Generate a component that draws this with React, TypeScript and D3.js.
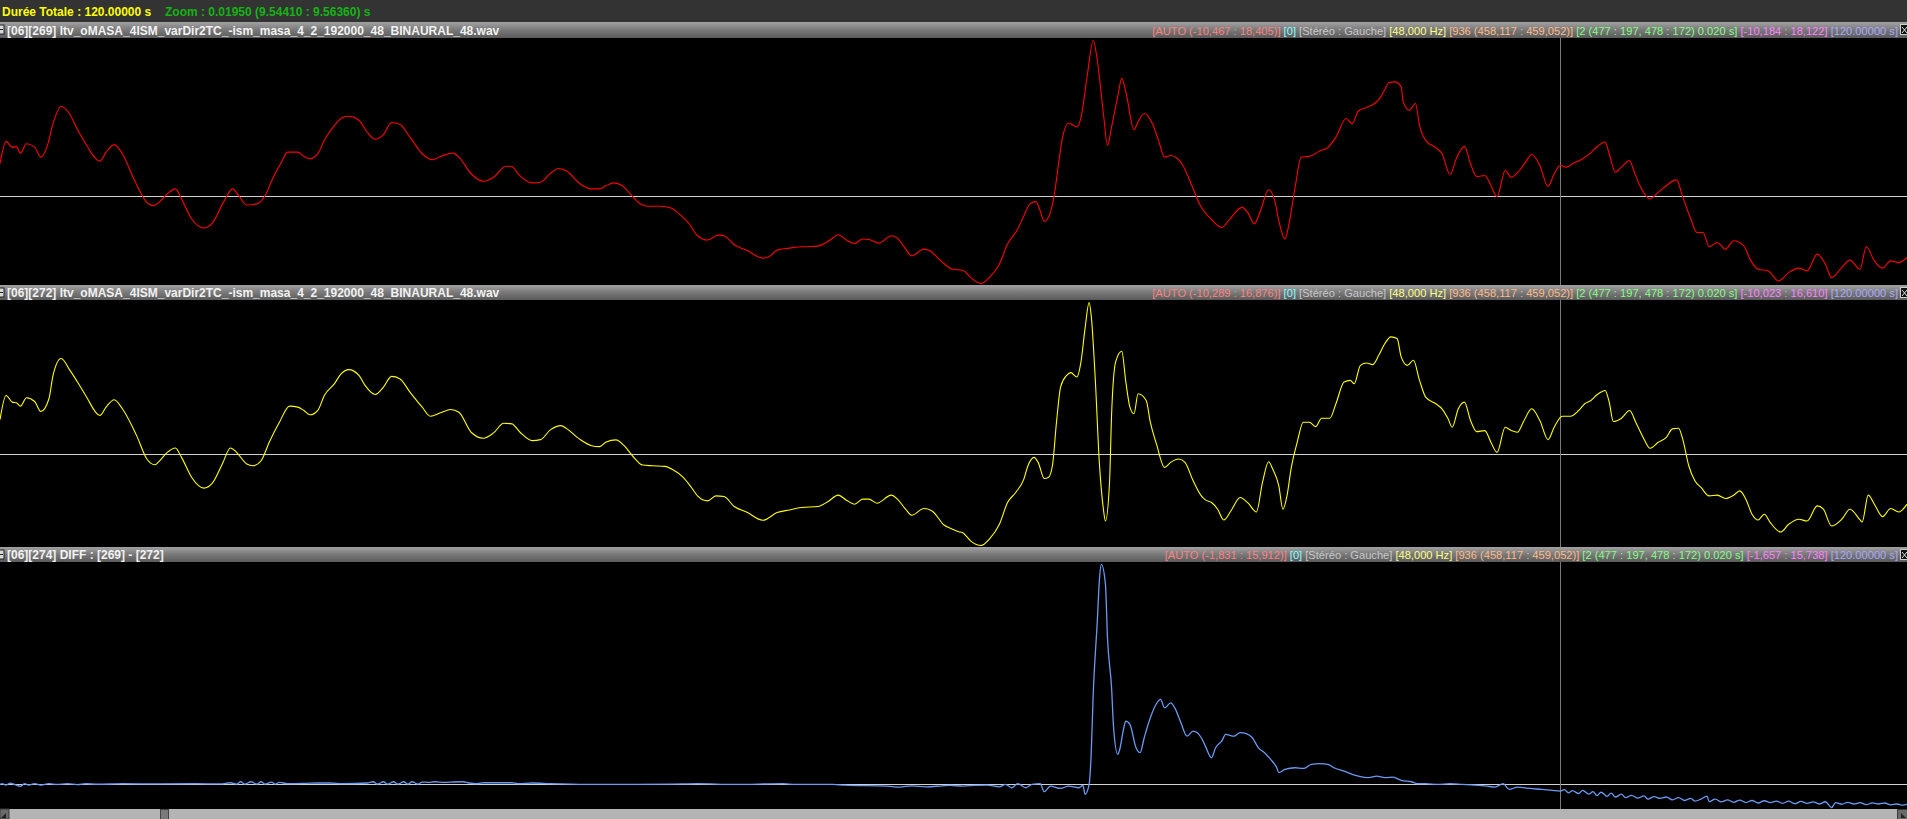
import React, { useEffect } from 'react';
import * as d3 from 'd3';

type Pt = [number, number];

// [sample offset inside the zoom window (0..935), amplitude]
const track269: Pt[] = [
  [0, 3760], [3, 6370], [6, 5670], [8, 5790], [10, 5000], [13, 6100], [17, 5700], [20, 4540], [23, 5700],
  [26, 8440], [30, 10460], [34, 9610], [38, 7740], [42, 6100], [49, 4070], [52, 5120], [56, 5990], [60, 4930],
  [66, 1810], [72, -730], [75, -1110], [78, -730], [82, 260], [86, 840], [89, -330], [94, -2670], [100, -3720],
  [104, -3180], [110, -530], [114, 840], [117, 60], [121, -1030], [126, -910], [130, 60], [134, 2200], [138, 3950],
  [141, 5120], [146, 5120], [149, 4620], [152, 4350], [156, 5000], [159, 6490], [164, 8240], [168, 9140],
  [171, 9290], [176, 8830], [180, 7460], [184, 6610], [188, 7150], [192, 8560], [196, 8360], [201, 6870],
  [207, 4930], [212, 4230], [216, 4620], [222, 5000], [225, 4540], [231, 2600], [237, 1730], [242, 2200],
  [248, 3480], [251, 3450], [254, 2600], [261, 1540], [265, 1610], [270, 2670], [274, 3220], [278, 2900],
  [284, 1500], [290, 840], [294, 840], [297, 1190], [301, 1540], [305, 1230], [309, 260], [314, -910],
  [318, -1190], [324, -1190], [329, -1380], [334, -2280], [338, -3250], [342, -4620], [347, -5120], [352, -4540],
  [355, -4620], [360, -5670], [366, -6290], [374, -7220], [377, -7070], [381, -6290], [387, -6060], [393, -5900],
  [401, -5820], [407, -5120], [411, -4500], [415, -5120], [419, -5520], [423, -5000], [426, -5050], [431, -5470],
  [437, -4620], [440, -4890], [443, -5790], [447, -6960], [453, -6170], [456, -6370], [461, -7460], [467, -8510],
  [472, -8630], [476, -9490], [481, -10184], [485, -9490], [490, -7930], [494, -5590], [499, -3830], [502, -2280],
  [505, -910], [508, -640], [510, -1700], [512, -2950], [515, -1890], [517, 260], [519, 3760], [521, 6870],
  [524, 8510], [528, 8040], [530, 9140], [533, 13890], [536, 18122], [538, 15840], [541, 9610], [543, 5900],
  [545, 8040], [548, 11550], [550, 13700], [552, 12130], [556, 7740], [558, 8630], [561, 9610], [565, 8440],
  [568, 6490], [571, 4540], [574, 4730], [580, 3570], [584, 1430], [589, -1310], [593, -2480], [599, -3650],
  [603, -2670], [609, -1310], [612, -2010], [615, -3250], [618, -1700], [622, 730], [625, -530], [627, -2860],
  [630, -5000], [632, -3250], [635, 1030], [638, 4540], [642, 4620], [647, 5240], [651, 5640], [655, 6870],
  [660, 9030], [663, 8440], [666, 9910], [670, 10310], [674, 10780], [677, 11550], [679, 12420], [681, 13190],
  [684, 13300], [687, 12720], [688, 10970], [691, 10000], [694, 10780], [696, 8240], [699, 6490], [704, 5640],
  [707, 4930], [711, 2510], [714, 4350], [718, 5790], [721, 3760], [724, 2280], [728, 2400], [731, 1230],
  [734, -60], [738, 2980], [741, 2200], [745, 2980], [748, 3950], [751, 4850], [755, 3570], [759, 1110],
  [762, 2600], [765, 3570], [768, 3370], [771, 3760], [776, 4350], [779, 4850], [782, 5520], [785, 6100],
  [787, 6290], [789, 4930], [792, 2780], [795, 3370], [799, 4150], [801, 2980], [804, 1230], [809, -330],
  [813, 440], [817, 1230], [822, 1890], [825, -60], [829, -2670], [832, -4230], [835, -4230], [838, -5900],
  [842, -5400], [846, -6170], [850, -5200], [855, -5790], [858, -7340], [862, -8510], [867, -8710], [872, -9880],
  [877, -8910], [882, -8390], [886, -8710], [891, -6760], [895, -7930], [898, -9490], [903, -8320], [907, -7460],
  [912, -8510], [915, -5900], [919, -7540], [923, -8390], [927, -7540], [931, -7740], [935, -7150],
];

const track272: Pt[] = [
  [0, 3780], [3, 6420], [6, 5690], [8, 5620], [10, 5250], [13, 6170], [17, 5760], [20, 4660], [24, 6060],
  [26, 8620], [30, 10460], [34, 9280], [38, 7890], [42, 6420], [49, 4220], [52, 5140], [56, 5950], [60, 4960],
  [67, 2020], [72, -540], [76, -1170], [78, -800], [82, 190], [86, 670], [89, -360], [94, -2560], [100, -3730],
  [104, -3220], [109, -1090], [113, 670], [116, 190], [121, -1090], [124, -1280], [128, -730], [132, 1290],
  [137, 3490], [142, 5250], [146, 5140], [149, 4770], [152, 4300], [156, 4850], [159, 6420], [164, 7710],
  [167, 8730], [171, 9250], [176, 8620], [179, 7520], [184, 6530], [188, 7340], [192, 8510], [196, 8260],
  [201, 6790], [207, 5140], [211, 4150], [216, 4520], [221, 4880], [225, 4590], [231, 2390], [237, 1730],
  [242, 2320], [247, 3380], [251, 3310], [255, 2390], [261, 1470], [265, 1580], [270, 2680], [275, 3120],
  [278, 2760], [284, 1660], [290, 920], [294, 810], [297, 1290], [302, 1550], [306, 920], [311, -430],
  [315, -1200], [320, -1280], [326, -1350], [330, -1720], [335, -2560], [339, -3660], [342, -4580], [347, -5130],
  [351, -4580], [355, -4650], [360, -5750], [366, -6340], [374, -7250], [381, -6410], [387, -6120], [393, -5860],
  [401, -5750], [406, -5200], [411, -4500], [415, -5050], [419, -5490], [423, -4940], [426, -4940], [430, -5380],
  [437, -4500], [440, -4940], [444, -6040], [447, -6700], [453, -5970], [457, -6230], [463, -7800], [466, -8130],
  [470, -8500], [472, -8610], [476, -9530], [481, -10023], [485, -9340], [490, -7690], [494, -5310], [498, -4210],
  [502, -2740], [504, -1280], [507, -360], [509, -910], [512, -2670], [514, -2560], [516, -1280], [518, 3490],
  [520, 7340], [523, 8620], [525, 8920], [528, 8440], [530, 10090], [532, 13760], [534, 16610], [535, 15220],
  [537, 8260], [539, -910], [541, -6040], [542, -7330], [544, -3110], [545, 4220], [547, 10090], [550, 11260],
  [552, 7890], [554, 5140], [556, 4410], [558, 6610], [562, 5870], [564, 3490], [567, 1110], [571, -1460],
  [574, -910], [578, -540], [581, -910], [585, -2930], [589, -4580], [591, -5020], [594, -5310], [597, -6040],
  [600, -7220], [604, -6040], [608, -4760], [612, -5380], [616, -6340], [619, -3110], [622, -840], [624, -1640],
  [627, -3480], [629, -6040], [631, -4580], [633, -1640], [636, 1290], [639, 3490], [642, 3490], [645, 3010],
  [648, 3930], [652, 3930], [655, 5510], [659, 7890], [662, 8070], [664, 7710], [667, 9720], [670, 9980],
  [673, 9800], [676, 10820], [679, 12110], [682, 12840], [685, 12660], [687, 10640], [690, 9720], [693, 10270],
  [696, 8070], [699, 6240], [704, 5510], [707, 4960], [710, 3860], [712, 2940], [715, 4960], [718, 5690],
  [721, 3670], [724, 2460], [728, 2570], [731, 1290], [734, 190], [738, 2940], [741, 2570], [744, 2390],
  [747, 3560], [751, 4960], [755, 3670], [759, 1580], [762, 2940], [766, 4150], [770, 4150], [774, 4770],
  [777, 5510], [780, 5870], [783, 6500], [785, 6790], [787, 6970], [789, 5690], [791, 3560], [795, 3930],
  [799, 4770], [802, 3490], [806, 1660], [809, 630], [813, 1290], [817, 1840], [820, 2760], [823, 2830],
  [825, 1660], [828, -1280], [831, -2930], [834, -3660], [838, -4580], [842, -4500], [846, -4870], [850, -4500],
  [853, -4030], [856, -4940], [859, -6590], [862, -7220], [865, -6590], [868, -7510], [873, -8540], [877, -7690],
  [882, -7140], [886, -7330], [891, -5680], [894, -6040], [898, -7880], [903, -7140], [907, -6040], [912, -7220],
  [913, -7440], [916, -4500], [919, -5490], [923, -6850], [927, -5970], [931, -6340], [935, -5490],
];

const track274: Pt[] = [
  [0, 0], [1, 50], [3, -50], [5, 95], [7, 0], [10, -140], [12, 50], [14, -50], [17, 50], [20, -50], [24, 50],
  [28, 0], [33, 50], [38, -20], [42, 50], [48, 10], [60, 50], [78, 40], [96, 50], [108, 40], [113, 120],
  [116, 20], [118, 190], [120, 20], [123, 190], [126, 20], [128, 190], [130, 20], [133, 170], [135, 20],
  [137, 140], [141, 60], [150, 80], [156, 100], [162, 100], [168, 60], [180, 100], [183, 190], [185, 20],
  [188, 190], [190, 20], [193, 190], [195, 20], [198, 190], [200, 20], [202, 190], [205, 20], [207, 170],
  [210, 150], [213, 190], [218, 140], [222, 170], [227, 190], [230, 100], [234, 50], [237, 120], [251, 120],
  [254, 50], [261, 100], [270, 50], [288, 0], [312, 0], [330, 20], [342, 50], [360, 0], [384, 50], [390, 0],
  [408, 0], [414, -50], [435, -120], [441, -190], [447, -100], [454, -170], [462, -100], [466, -70], [472, -120],
  [478, -70], [484, -50], [490, -170], [493, 0], [496, -240], [499, 50], [503, -240], [506, 0], [510, 50],
  [512, -520], [515, -120], [520, -290], [524, -120], [529, -240], [531, -70], [532, -715], [534, 0], [535, 2150],
  [536, 6440], [538, 11680], [539, 14540], [540, 15738], [542, 14300], [543, 10490], [545, 6910], [546, 4050],
  [548, 2150], [549, 2500], [551, 4050], [552, 4530], [554, 4290], [557, 2620], [559, 2270], [561, 3340],
  [564, 4770], [567, 5770], [569, 6080], [571, 5480], [574, 5840], [576, 5480], [579, 4410], [582, 3450],
  [585, 3810], [589, 3340], [591, 2740], [594, 1910], [596, 2620], [599, 3100], [601, 3580], [605, 3450],
  [608, 3700], [611, 3630], [614, 3340], [617, 2620], [620, 2270], [623, 1790], [626, 1190], [627, 840],
  [630, 1070], [635, 1190], [639, 1140], [643, 1430], [647, 1480], [651, 1430], [654, 1190], [659, 950],
  [663, 720], [666, 590], [671, 480], [675, 590], [679, 480], [683, 520], [687, 290], [692, 190], [695, 50],
  [699, 50], [705, 0], [711, 50], [717, 0], [723, -50], [729, -120], [733, -190], [737, 50], [740, -360],
  [744, -190], [750, -290], [756, -360], [761, -430], [765, -480], [767, -380], [769, -600], [771, -450],
  [774, -650], [776, -420], [779, -700], [781, -520], [783, -800], [785, -560], [788, -850], [790, -620],
  [792, -900], [795, -700], [797, -950], [800, -780], [803, -980], [806, -820], [808, -1050], [811, -880],
  [814, -1000], [817, -900], [820, -1100], [823, -950], [826, -1150], [829, -1000], [831, -1200], [834, -1050],
  [837, -840], [838, -1240], [841, -1050], [844, -1250], [847, -1100], [850, -1280], [853, -1120], [856, -1300],
  [859, -1150], [862, -1330], [865, -1170], [868, -1300], [871, -1200], [874, -1350], [877, -1200], [880, -1380],
  [883, -1220], [886, -1360], [889, -1250], [892, -1400], [895, -1240], [898, -1657], [900, -1300], [903, -1420],
  [906, -1280], [909, -1400], [912, -1300], [915, -1450], [918, -1320], [921, -1400], [924, -1330], [927, -1460],
  [930, -1400], [933, -1480], [935, -1430],
];

const headerDuration = 'Durée Totale : 120.00000 s';
const headerZoom = 'Zoom : 0.01950 (9.54410 : 9.56360) s';

const trackTitles = [
  '[06][269] ltv_oMASA_4ISM_varDir2TC_-ism_masa_4_2_192000_48_BINAURAL_48.wav',
  '[06][272] ltv_oMASA_4ISM_varDir2TC_-ism_masa_4_2_192000_48_BINAURAL_48.wav',
  '[06][274] DIFF : [269] - [272]',
];

// AUTO vertical range of each track
const autoRanges: [number, number][] = [[-10467, 18405], [-10289, 16876], [-1831, 15912]];

const trackInfo: string[][] = [
  ['[AUTO (-10,467 : 18,405)]', '[0]', '[Stéréo : Gauche]', '[48,000 Hz]', '[936 (458,117 : 459,052)]',
    '[2 (477 : 197, 478 : 172) 0.020 s]', '[-10,184 : 18,122]', '[120.00000 s]'],
  ['[AUTO (-10,289 : 16,876)]', '[0]', '[Stéréo : Gauche]', '[48,000 Hz]', '[936 (458,117 : 459,052)]',
    '[2 (477 : 197, 478 : 172) 0.020 s]', '[-10,023 : 16,610]', '[120.00000 s]'],
  ['[AUTO (-1,831 : 15,912)]', '[0]', '[Stéréo : Gauche]', '[48,000 Hz]', '[936 (458,117 : 459,052)]',
    '[2 (477 : 197, 478 : 172) 0.020 s]', '[-1,657 : 15,738]', '[120.00000 s]'],
];

const infoColors = ['#ff8080', '#80ffff', '#c8c8c8', '#ffff80', '#ffb884', '#80ff80', '#ff80ff', '#a8a8ff'];
const waveColors = ['#ff0000', '#ffff00', '#6a9af2'];
const tracks = [track269, track272, track274];

const SAMPLE_COUNT = 936;
const CURSOR_SAMPLE = 765;

const W = 1907;
const H = 819;
const PLOT_H = 248;
const BAR_H = 15;
const panelTops = [38, 300, 562];
const FONT = "'Liberation Sans', Arial, sans-serif";

const App: React.FC = () => {
  useEffect(() => {
    document.body.style.margin = '0';
    document.body.style.background = '#000';
  }, []);

  const xScale = d3.scaleLinear().domain([0, SAMPLE_COUNT - 1]).range([0, W]);
  const cursorX = Math.round(xScale(CURSOR_SAMPLE)) + 0.5;

  return (
    <svg width={W} height={H} viewBox={`0 0 ${W} ${H}`} style={{ display: 'block' }}>
      <defs>
        <linearGradient id="barGrad" x1="0" y1="0" x2="0" y2="1">
          <stop offset="0%" stopColor="#a2a2a2" />
          <stop offset="45%" stopColor="#7c7c7c" />
          <stop offset="100%" stopColor="#5a5a5a" />
        </linearGradient>
        {panelTops.map((top, i) => (
          <clipPath id={`plotClip${i}`} key={i}>
            <rect x={0} y={top} width={W} height={PLOT_H} />
          </clipPath>
        ))}
      </defs>
      <rect x={0} y={0} width={W} height={H} fill="#000" />

      {/* top status bar */}
      <rect x={0} y={0} width={W} height={23} fill="#333333" />
      <text x={2} y={16} fill="#ffff00" fontFamily={FONT} fontSize={12} fontWeight="bold">{headerDuration}</text>
      <text x={165} y={16} fill="#13b313" fontFamily={FONT} fontSize={12} fontWeight="bold">{headerZoom}</text>

      {panelTops.map((top, i) => {
        const [lo, hi] = autoRanges[i];
        const yScale = d3.scaleLinear().domain([lo, hi]).range([top + PLOT_H, top]);
        const line = d3.line<Pt>()
          .x(d => xScale(d[0]))
          .y(d => yScale(d[1]))
          .curve(d3.curveMonotoneX);
        const zeroY = Math.round(yScale(0)) + 0.5;
        const barY = top - BAR_H - (i === 0 ? 1 : 0);
        const barH = top - barY;
        return (
          <g key={i}>
            <g clipPath={`url(#plotClip${i})`}>
              <line x1={0} x2={W} y1={zeroY} y2={zeroY} stroke="#d2d2d2" strokeWidth={1} />
              <line x1={cursorX} x2={cursorX} y1={top} y2={top + PLOT_H} stroke="#7a7a7a" strokeWidth={1} />
              <path d={line(tracks[i]) || ''} fill="none" stroke={waveColors[i]} strokeWidth={i === 2 ? 1.3 : 1.1} />
            </g>

            {/* track title bar */}
            <rect x={0} y={barY} width={W} height={barH} fill="url(#barGrad)" />
            <rect x={-4} y={barY + 3} width={8} height={9} fill="#d8d8d8" stroke="#222" strokeWidth={1} />
            <line x1={-2} x2={3} y1={barY + 7.5} y2={barY + 7.5} stroke="#222" strokeWidth={1} />
            <text x={7} y={top - 3.5} fill="#f2f2f2" fontFamily={FONT} fontSize={12} fontWeight="bold">
              {trackTitles[i]}
            </text>
            <text x={1898} y={top - 3.5} textAnchor="end" fontFamily={FONT} fontSize={11.12}>
              {trackInfo[i].map((seg, j) => (
                <tspan key={j} fill={infoColors[j]}>{(j > 0 ? ' ' : '') + seg}</tspan>
              ))}
            </text>
            <rect x={1900.5} y={barY + 2.5} width={8} height={10} fill="#111" stroke="#cfcfcf" strokeWidth={1} />
            <path d={`M1902,${barY + 5} L1907,${barY + 11} M1907,${barY + 5} L1902,${barY + 11}`}
              stroke="#e0e0e0" strokeWidth={1} />
          </g>
        );
      })}

      {/* horizontal scroll bar */}
      <rect x={0} y={809} width={W} height={10} fill="#b4b4b4" />
      <rect x={0} y={809} width={9} height={10} fill="#6a6a6a" stroke="#3a3a3a" strokeWidth={1} />
      <path d="M1,818 L6,813 L6,818 Z" fill="#222" />
      <rect x={160.5} y={809.5} width={8} height={10} fill="#7a7a7a" stroke="#444" strokeWidth={1} />
      <rect x={1897.5} y={809.5} width={10} height={10} fill="#6a6a6a" stroke="#3a3a3a" strokeWidth={1} />
      <path d="M1906,818 L1901,813 L1901,818 Z" fill="#222" />
    </svg>
  );
};

export default App;
